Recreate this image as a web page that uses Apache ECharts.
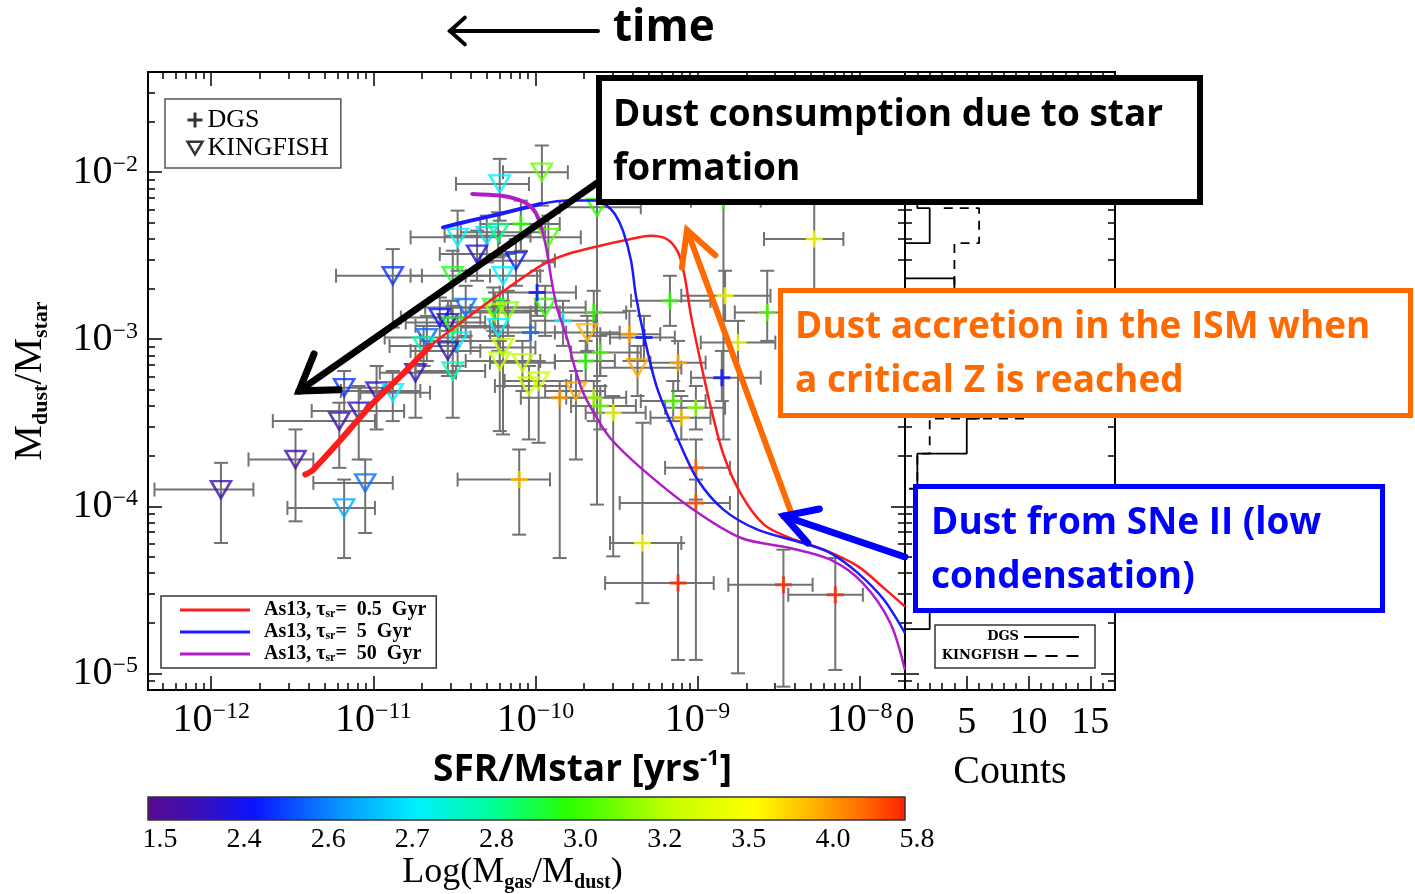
<!DOCTYPE html>
<html>
<head>
<meta charset="utf-8">
<script src="https://cdn.jsdelivr.net/npm/echarts@6/dist/echarts.min.js"></script>
<style>
  html, body { margin: 0; padding: 0; background: #fff; }
  #chart { width: 1415px; height: 894px; }
</style>
</head>
<body>
<div id="chart"></div>
<script>
// Axes are in log10 units: x = log10(SFR/Mstar [yr^-1]), y = log10(Mdust/Mstar)
const ssfrRange = [-12.39, -7.72];
const dustRange = [-5.10, -1.40];
const ssfrDecades = [-12, -11, -10, -9, -8];
const dustDecades = [-5, -4, -3, -2];

// KINGFISH galaxies: [log sSFR, log Md/M*, sSFR low, sSFR high, Md/M* low, Md/M* high, log Mgas/Mdust]
const kingfish = [
  [-11.94, -3.90, -12.35, -11.74, -4.22, -3.74, 1.9],
  [-11.48, -3.72, -11.77, -11.37, -4.09, -3.54, 1.9],
  [-11.18, -4.01, -11.53, -10.99, -4.31, -3.84, 2.65],
  [-11.05, -3.86, -11.37, -10.88, -4.16, -3.72, 2.6],
  [-11.21, -3.49, -11.62, -10.99, -3.77, -3.38, 2.0],
  [-11.09, -3.43, -11.38, -10.81, -3.72, -3.28, 2.1],
  [-11.18, -3.29, -11.45, -10.90, -3.43, -3.19, 2.5],
  [-10.98, -3.31, -11.20, -10.71, -3.54, -3.16, 2.1],
  [-10.88, -3.32, -11.08, -10.65, -3.49, -3.19, 2.72],
  [-10.74, -3.20, -10.96, -10.49, -3.47, -3.04, 2.1],
  [-10.88, -2.62, -11.23, -10.70, -2.93, -2.46, 2.5],
  [-10.22, -2.07, -10.49, -10.04, -2.29, -1.92, 2.72],
  [-9.96, -2.00, -10.20, -9.80, -2.20, -1.84, 3.1],
  [-10.48, -2.39, -10.77, -10.22, -2.59, -2.23, 2.72],
  [-10.30, -2.38, -10.56, -10.03, -2.54, -2.26, 2.7],
  [-10.23, -2.36, -10.46, -9.94, -2.51, -2.24, 2.85],
  [-10.36, -2.49, -10.59, -10.12, -2.65, -2.35, 2.3],
  [-10.12, -2.53, -10.34, -9.88, -2.68, -2.40, 2.45],
  [-10.20, -2.62, -10.43, -9.97, -2.77, -2.50, 2.72],
  [-10.51, -2.62, -10.77, -10.28, -2.77, -2.47, 2.95],
  [-9.92, -2.39, -10.09, -9.72, -2.54, -2.26, 3.05],
  [-9.94, -2.81, -10.19, -9.69, -2.98, -2.68, 3.0],
  [-10.43, -2.81, -10.68, -10.19, -2.98, -2.68, 2.6],
  [-10.26, -2.81, -10.52, -10.00, -2.95, -2.69, 2.95],
  [-10.17, -2.83, -10.40, -9.94, -2.98, -2.71, 3.15],
  [-9.68, -2.96, -9.88, -9.48, -3.07, -2.86, 3.95],
  [-10.54, -2.90, -10.80, -10.31, -3.07, -2.77, 2.1],
  [-10.59, -2.87, -10.83, -10.34, -3.04, -2.75, 2.45],
  [-10.67, -2.99, -10.93, -10.40, -3.13, -2.86, 2.58],
  [-10.48, -3.01, -10.71, -10.22, -3.16, -2.87, 2.72],
  [-10.51, -2.92, -10.74, -10.28, -3.04, -2.80, 2.95],
  [-10.69, -3.04, -10.90, -10.49, -3.16, -2.92, 2.8],
  [-10.54, -3.07, -10.77, -10.34, -3.22, -2.95, 2.15],
  [-10.51, -3.19, -10.74, -10.31, -3.47, -3.04, 2.8],
  [-10.22, -3.13, -10.43, -9.97, -3.55, -3.01, 3.25],
  [-10.20, -3.05, -10.40, -10.00, -3.57, -2.92, 3.25],
  [-10.08, -3.14, -10.28, -9.88, -3.31, -3.01, 3.25],
  [-10.04, -3.28, -10.25, -9.81, -3.60, -3.16, 3.3],
  [-9.98, -3.25, -10.19, -9.78, -3.62, -3.13, 3.3],
  [-10.25, -2.84, -10.46, -10.03, -2.98, -2.72, 3.2],
  [-10.23, -2.93, -10.46, -10.00, -3.07, -2.80, 2.72],
  [-9.75, -3.31, -9.94, -9.57, -3.72, -3.19, 4.0],
  [-9.37, -3.17, -9.60, -9.10, -3.34, -3.04, 4.0],
  [-9.62, -2.21, -9.85, -9.35, -3.99, -2.08, 3.0]
];

// DGS galaxies, same columns
const dgs = [
  [-10.10, -3.84, -10.48, -9.91, -4.17, -3.66, 3.9],
  [-10.09, -2.31, -10.34, -9.85, -2.47, -2.17, 3.0],
  [-9.99, -2.72, -10.22, -9.75, -2.86, -2.59, 2.45],
  [-10.03, -2.96, -10.28, -9.81, -3.13, -2.83, 2.6],
  [-9.64, -2.84, -9.85, -9.44, -2.98, -2.71, 3.0],
  [-9.60, -3.08, -9.78, -9.35, -3.22, -2.98, 3.05],
  [-9.69, -3.13, -9.88, -9.51, -3.25, -3.01, 3.0],
  [-9.85, -3.35, -10.09, -9.60, -4.31, -3.25, 4.3],
  [-9.64, -3.35, -9.81, -9.44, -3.49, -3.25, 3.2],
  [-9.60, -3.40, -9.78, -9.38, -3.54, -3.28, 3.1],
  [-9.52, -3.44, -9.69, -9.32, -4.30, -3.34, 3.45],
  [-8.28, -2.40, -8.59, -8.10, -3.00, -2.15, 3.55],
  [-8.83, -2.74, -9.10, -8.55, -2.89, -2.59, 3.5],
  [-9.17, -2.77, -9.41, -8.92, -2.92, -2.62, 3.0],
  [-8.57, -2.84, -8.77, -8.36, -3.01, -2.59, 3.05],
  [-8.75, -3.02, -8.98, -8.52, -5.00, -2.89, 3.5],
  [-9.42, -2.97, -9.60, -9.23, -3.13, -2.83, 4.1],
  [-9.33, -2.99, -9.54, -9.14, -3.13, -2.86, 2.45],
  [-9.12, -3.14, -9.29, -8.95, -3.31, -3.01, 4.0],
  [-8.85, -3.23, -9.04, -8.61, -3.37, -3.07, 2.45],
  [-9.15, -3.37, -9.35, -8.95, -3.49, -3.25, 3.05],
  [-9.01, -3.41, -9.20, -8.83, -3.54, -3.28, 3.15],
  [-9.10, -3.47, -9.29, -8.92, -3.60, -3.34, 3.9],
  [-9.01, -3.77, -9.20, -8.80, -3.96, -3.60, 5.0],
  [-9.01, -3.98, -9.48, -8.80, -4.92, -3.84, 5.2],
  [-9.34, -4.22, -9.54, -9.10, -4.58, -3.50, 3.6],
  [-9.12, -4.46, -9.57, -8.90, -4.92, -4.22, 5.7],
  [-8.47, -4.47, -8.81, -8.29, -5.08, -4.26, 5.7],
  [-8.15, -4.53, -8.44, -7.98, -4.98, -4.31, 5.7],
  [-8.84, -2.17, -9.04, -8.61, -3.60, -1.87, 3.0],
  [-9.83, -2.89, -10.03, -9.63, -3.04, -2.77, 2.72]
];

// Asano et al. (2013) model tracks for three star-formation timescales
const modelTau = ['0.5', '5', '50'];
const track05 = [
  [-11.42, -3.81], [-11.37, -3.78], [-11.20, -3.60], [-11.00, -3.38], [-10.83, -3.22],
  [-10.65, -3.04], [-10.42, -2.87], [-10.15, -2.68], [-9.95, -2.55], [-9.80, -2.49],
  [-9.60, -2.44], [-9.41, -2.40], [-9.29, -2.38], [-9.19, -2.40], [-9.12, -2.48],
  [-9.08, -2.62], [-9.04, -2.86], [-8.98, -3.14], [-8.92, -3.40], [-8.84, -3.69],
  [-8.73, -3.93], [-8.59, -4.11], [-8.43, -4.19], [-8.22, -4.26], [-8.01, -4.36],
  [-7.85, -4.49], [-7.72, -4.60]
];
const track5 = [
  [-10.57, -2.33], [-10.40, -2.29], [-10.22, -2.25], [-9.97, -2.19], [-9.80, -2.17],
  [-9.63, -2.17], [-9.56, -2.20], [-9.51, -2.25], [-9.46, -2.35], [-9.41, -2.53],
  [-9.38, -2.74], [-9.33, -2.98], [-9.25, -3.29], [-9.12, -3.60], [-9.00, -3.84],
  [-8.84, -4.02], [-8.63, -4.14], [-8.35, -4.22], [-8.18, -4.28], [-8.01, -4.40],
  [-7.85, -4.56], [-7.72, -4.76]
];
const track50 = [
  [-10.39, -2.13], [-10.22, -2.14], [-10.12, -2.16], [-10.05, -2.19], [-10.00, -2.24],
  [-9.96, -2.34], [-9.93, -2.47], [-9.90, -2.65], [-9.87, -2.80], [-9.83, -2.92],
  [-9.80, -3.01], [-9.76, -3.16], [-9.71, -3.31], [-9.64, -3.44], [-9.54, -3.59],
  [-9.35, -3.77], [-9.04, -4.01], [-8.73, -4.19], [-8.43, -4.25], [-8.18, -4.32],
  [-7.98, -4.46], [-7.81, -4.70], [-7.72, -4.98]
];

// Colour bar tick labels: log(Mgas/Mdust)
const gasDustTicks = [1.5, 2.4, 2.6, 2.7, 2.8, 3.0, 3.2, 3.5, 4.0, 5.8];

// Histograms of log(Mdust/Mstar)
const histEdges = [-1.585, -1.795, -2.005, -2.215, -2.425, -2.635, -2.845, -3.055, -3.265,
                   -3.475, -3.685, -3.895, -4.105, -4.315, -4.525, -4.735, -4.945, -5.155];
const histDGS = [0, 0, 1, 2, 0, 4, 6, 7, 6, 5, 1, 2, 1, 1, 2, 0, 0];
const histKF  = [0, 1, 3, 6, 4, 4, 10, 14, 10, 2, 1, 0, 0, 0, 0, 0, 0];
const countTicks = [0, 5, 10, 15];

// ---------- colour map ----------
const cmapStops = [
  [0, '#5a0b90'], [0.6, '#3a10b6'], [1.27, '#0a14ff'], [2.3, '#0a96ff'], [3.2, '#00f0ff'],
  [4.1, '#00ff9a'], [5.0, '#2aff00'], [6.2, '#c4ff00'], [7.2, '#ffff00'], [7.9, '#ffb400'],
  [8.5, '#ff6a00'], [9.0, '#ff2000']
];
function hexRgb(h) { return [1, 3, 5].map(i => parseInt(h.slice(i, i + 2), 16)); }
function cmapAt(p) {
  p = Math.max(0, Math.min(9, p));
  for (let i = 0; i < cmapStops.length - 1; i++) {
    const [p0, c0] = cmapStops[i], [p1, c1] = cmapStops[i + 1];
    if (p <= p1) {
      const t = (p - p0) / (p1 - p0), a = hexRgb(c0), b = hexRgb(c1);
      return 'rgb(' + a.map((v, k) => Math.round(v + (b[k] - v) * t)).join(',') + ')';
    }
  }
  return cmapStops[cmapStops.length - 1][1];
}
function gasDustPos(g) {
  const t = gasDustTicks;
  if (g <= t[0]) return 0;
  for (let i = 0; i < t.length - 1; i++) {
    if (g <= t[i + 1]) return i + (g - t[i]) / (t[i + 1] - t[i]);
  }
  return t.length - 1;
}
const colourOf = g => cmapAt(gasDustPos(g));

// ---------- helpers ----------
function logMinors(lo, hi) {
  const out = [];
  for (let d = Math.floor(lo); d <= Math.ceil(hi); d++) {
    for (let k = 2; k <= 9; k++) {
      const v = d + Math.log10(k);
      if (v > lo && v < hi) out.push(v);
    }
  }
  return out;
}
function histOutline(edges, counts) {
  const pts = [[0, edges[0]]];
  counts.forEach((c, i) => { pts.push([c, edges[i]]); pts.push([c, edges[i + 1]]); });
  pts.push([0, edges[edges.length - 1]]);
  return pts;
}

const SERIF = 'Liberation Serif';
const SANS = 'Open Sans';
const powerLabel = v => '{b|10}{e|\u2212' + Math.abs(v) + '}';
const powerRich = {
  b: { fontFamily: SERIF, fontSize: 40, lineHeight: 40, color: '#000' },
  e: { fontFamily: SERIF, fontSize: 24, lineHeight: 24, color: '#000', verticalAlign: 'top' }
};

function logAxis(opts) {
  const majors = opts.majors, minor = opts.minor;
  return {
    type: 'value', gridIndex: opts.grid, position: opts.position,
    min: opts.range[0], max: opts.range[1],
    axisLine: { show: true, onZero: false, lineStyle: { color: '#000', width: 2 } },
    splitLine: { show: false },
    axisTick: {
      show: true, inside: true, length: minor ? 7 : 14,
      lineStyle: { color: '#000', width: 1.5 },
      customValues: minor ? logMinors(opts.range[0], opts.range[1]) : majors
    },
    axisLabel: opts.labels ? Object.assign({
      show: true, customValues: majors, formatter: powerLabel, rich: powerRich
    }, opts.labels) : { show: false },
    name: opts.name || '', nameLocation: 'middle', nameGap: opts.nameGap || 0,
    nameRotate: opts.nameRotate, nameTextStyle: opts.nameTextStyle
  };
}

const xAxes = [
  logAxis({ grid: 0, position: 'bottom', range: ssfrRange, majors: ssfrDecades,
    labels: { margin: 10 },
    name: '{a|SFR/Mstar [yrs}{s|-1}{a|]}', nameGap: 58,
    nameTextStyle: { padding: [0, 0, 0, 112], rich: {
      a: { fontFamily: SANS, fontWeight: 'bold', fontSize: 37, lineHeight: 44, color: '#000' },
      s: { fontFamily: SANS, fontWeight: 'bold', fontSize: 22, lineHeight: 22, color: '#000', verticalAlign: 'top' }
    } } }),
  logAxis({ grid: 0, position: 'bottom', range: ssfrRange, minor: true }),
  logAxis({ grid: 0, position: 'top', range: ssfrRange, majors: ssfrDecades }),
  logAxis({ grid: 0, position: 'top', range: ssfrRange, minor: true }),
  {
    type: 'value', gridIndex: 1, position: 'bottom', min: 0, max: 17, interval: 5,
    axisLine: { show: true, onZero: false, lineStyle: { color: '#000', width: 2 } },
    splitLine: { show: false },
    axisTick: { show: true, inside: true, length: 14, lineStyle: { color: '#000', width: 1.5 } },
    minorTick: { show: true, splitNumber: 5, length: 7, lineStyle: { color: '#000', width: 1.5 } },
    axisLabel: { show: true, margin: 14, fontFamily: SERIF, fontSize: 38, color: '#000',
      formatter: v => countTicks.includes(v) ? String(v) : '' },
    name: 'Counts', nameLocation: 'middle', nameGap: 62,
    nameTextStyle: { fontFamily: SERIF, fontSize: 40, color: '#000' }
  },
  {
    type: 'value', gridIndex: 1, position: 'top', min: 0, max: 17, interval: 5,
    axisLine: { show: true, onZero: false, lineStyle: { color: '#000', width: 2 } },
    splitLine: { show: false },
    axisTick: { show: true, inside: true, length: 14, lineStyle: { color: '#000', width: 1.5 } },
    minorTick: { show: true, splitNumber: 5, length: 7, lineStyle: { color: '#000', width: 1.5 } },
    axisLabel: { show: false }
  },
  {
    type: 'value', gridIndex: 2, position: 'bottom', min: 0, max: gasDustTicks.length - 1,
    axisLine: { show: false }, axisTick: { show: false }, splitLine: { show: false },
    axisLabel: {
      show: true, customValues: gasDustTicks.map((_, i) => i), margin: 6,
      fontFamily: SERIF, fontSize: 28, color: '#000', padding: [0, 0, 0, 24],
      formatter: v => gasDustTicks[Math.round(v)].toFixed(1)
    },
    name: '{m|Log(M}{s|gas}{m|/M}{s|dust}{m|)}', nameLocation: 'middle', nameGap: 32,
    nameTextStyle: { padding: [0, 0, 0, -28], rich: {
      m: { fontFamily: SERIF, fontSize: 36, lineHeight: 40, color: '#000' },
      s: { fontFamily: SERIF, fontWeight: 'bold', fontSize: 20, lineHeight: 20, color: '#000', verticalAlign: 'bottom' }
    } }
  }
];

const yAxes = [
  logAxis({ grid: 0, position: 'left', range: dustRange, majors: dustDecades,
    labels: { margin: 10 },
    name: '{m|M}{s|dust}{m|/M}{s|star}', nameGap: 96, nameRotate: 90,
    nameTextStyle: { rich: {
      m: { fontFamily: SERIF, fontSize: 40, lineHeight: 44, color: '#000' },
      s: { fontFamily: SERIF, fontWeight: 'bold', fontSize: 22, lineHeight: 22, color: '#000', verticalAlign: 'bottom' }
    } } }),
  logAxis({ grid: 0, position: 'left', range: dustRange, minor: true }),
  logAxis({ grid: 0, position: 'right', range: dustRange, majors: dustDecades }),
  logAxis({ grid: 0, position: 'right', range: dustRange, minor: true }),
  logAxis({ grid: 1, position: 'left', range: dustRange, majors: dustDecades }),
  logAxis({ grid: 1, position: 'left', range: dustRange, minor: true }),
  logAxis({ grid: 1, position: 'right', range: dustRange, majors: dustDecades }),
  logAxis({ grid: 1, position: 'right', range: dustRange, minor: true }),
  { type: 'value', gridIndex: 2, min: 0, max: 1, show: false }
];

// ---------- series ----------
function errorBarSeries(name, rows) {
  return {
    name: name, type: 'custom', xAxisIndex: 0, yAxisIndex: 0, clip: true, z: 2,
    data: rows.map(r => r.slice(0, 6)),
    renderItem: (params, api) => {
      const x = api.value(0), y = api.value(1);
      const a = api.coord([api.value(2), y]), b = api.coord([api.value(3), y]);
      const lo = api.coord([x, api.value(4)]), hi = api.coord([x, api.value(5)]);
      const cap = 7;
      const st = { stroke: '#727272', lineWidth: 2 };
      const seg = (x1, y1, x2, y2) => ({ type: 'line', shape: { x1, y1, x2, y2 }, style: st });
      return { type: 'group', children: [
        seg(a[0], a[1], b[0], b[1]),
        seg(a[0], a[1] - cap, a[0], a[1] + cap),
        seg(b[0], b[1] - cap, b[0], b[1] + cap),
        seg(lo[0], lo[1], hi[0], hi[1]),
        seg(lo[0] - cap, lo[1], lo[0] + cap, lo[1]),
        seg(hi[0] - cap, hi[1], hi[0] + cap, hi[1])
      ] };
    }
  };
}

const TRI = 'path://M0,0L20,0L10,17Z';
const PLUS = 'path://M10,0V20M0,10H20';
const DASHES = 'path://M0,0H12V2H0Z M21,0H33V2H21Z M42,0H54V2H42Z';

function pointSeries(name, rows, symbol, size, width) {
  return {
    name: name, type: 'scatter', xAxisIndex: 0, yAxisIndex: 0, z: 4,
    symbol: symbol, symbolSize: size,
    itemStyle: { color: 'rgba(0,0,0,0)', borderWidth: width },
    emphasis: { disabled: true },
    data: rows.map(r => ({ value: [r[0], r[1]], itemStyle: { borderColor: colourOf(r[6]) } }))
  };
}

const trackNames = modelTau.map(t => 'As13 ' + t);
const trackColours = ['#ff1c1c', '#1a1aff', '#b01cc8'];
const trackData = [track05, track5, track50];
const trackSplit = [6, 4, 6]; // early part of each track is drawn heavier
const trackSeries = [];
trackData.forEach((d, i) => {
  trackSeries.push({
    name: trackNames[i], type: 'line', xAxisIndex: 0, yAxisIndex: 0, z: 6,
    data: d.slice(trackSplit[i] - 1), showSymbol: false, symbol: 'none', smooth: 0.3,
    lineStyle: { color: trackColours[i], width: 2.5 }, itemStyle: { color: trackColours[i] }
  });
  trackSeries.push({
    name: trackNames[i], type: 'line', xAxisIndex: 0, yAxisIndex: 0, z: 6,
    data: d.slice(0, trackSplit[i]), showSymbol: false, symbol: 'none', smooth: 0.3,
    lineStyle: { color: trackColours[i], width: i === 0 ? 6 : 4, cap: 'round' },
    itemStyle: { color: trackColours[i] }
  });
});

const histSeries = [
  { name: 'DGS counts', type: 'line', xAxisIndex: 4, yAxisIndex: 4, z: 3,
    data: histOutline(histEdges, histDGS), showSymbol: false, symbol: 'none',
    lineStyle: { color: '#000', width: 1.8 }, itemStyle: { color: '#000' } },
  { name: 'KINGFISH counts', type: 'line', xAxisIndex: 4, yAxisIndex: 4, z: 3,
    data: histOutline(histEdges, histKF), showSymbol: false, symbol: 'none',
    lineStyle: { color: '#000', width: 1.8, type: [9, 7] }, itemStyle: { color: '#000' } }
];

const colourBar = {
  name: 'colour bar', type: 'custom', xAxisIndex: 6, yAxisIndex: 8, data: [[0]],
  renderItem: (params, api) => {
    const p0 = api.coord([0, 0]), p1 = api.coord([gasDustTicks.length - 1, 1]);
    const n = gasDustTicks.length - 1;
    return {
      type: 'rect',
      shape: { x: p0[0], y: p1[1], width: p1[0] - p0[0], height: p0[1] - p1[1] },
      style: {
        fill: new echarts.graphic.LinearGradient(0, 0, 1, 0,
          cmapStops.map(s => ({ offset: s[0] / n, color: s[1] }))),
        stroke: '#333', lineWidth: 1.5
      }
    };
  }
};

// ---------- annotations ----------
function chevron(tip, from, len, angDeg) {
  const dx = from[0] - tip[0], dy = from[1] - tip[1];
  const L = Math.hypot(dx, dy), ux = dx / L, uy = dy / L;
  const a = angDeg * Math.PI / 180;
  const rot = s => [tip[0] + len * (ux * Math.cos(s * a) - uy * Math.sin(s * a)),
                    tip[1] + len * (ux * Math.sin(s * a) + uy * Math.cos(s * a))];
  return [rot(1), tip, rot(-1)];
}
function arrow(from, tip, colour, width, len, ang) {
  return [
    { type: 'line', z: 100, shape: { x1: from[0], y1: from[1], x2: tip[0], y2: tip[1] },
      style: { stroke: colour, lineWidth: width, lineCap: 'round' } },
    { type: 'polyline', z: 100, shape: { points: chevron(tip, from, len, ang) },
      style: { stroke: colour, lineWidth: width, lineCap: 'round', lineJoin: 'miter', fill: null } }
  ];
}
function noteBox(x, y, w, h, colour, width, lines, tx, ty, textColour) {
  return [
    { type: 'rect', z: 100, shape: { x: x, y: y, width: w, height: h },
      style: { fill: '#fff', stroke: colour, lineWidth: width } },
    { type: 'text', z: 101, x: tx, y: ty,
      style: { text: lines.join('\n'), fill: textColour, font: 'bold 37px "' + SANS + '"',
               lineHeight: 54, textVerticalAlign: 'top' } }
  ];
}

const ORANGE = '#ff6a00';
const BLUE = '#0000ff';
const graphics = [].concat(
  arrow([598, 31], [450, 31], '#000', 4, 20, 42),
  [{ type: 'text', z: 100, x: 613, y: 28,
     style: { text: 'time', fill: '#000', font: 'bold 44px "' + SANS + '"', textVerticalAlign: 'middle' } }],
  arrow([597, 183], [299, 391], '#000', 7, 40, 33),
  noteBox(599, 78, 601, 124, '#000', 6,
    ['Dust consumption due to star', 'formation'], 613, 88, '#000'),
  arrow([792, 515], [687, 230], ORANGE, 6, 38, 28),
  noteBox(780.5, 290.5, 630, 125, ORANGE, 5,
    ['Dust accretion in the ISM when', 'a critical Z is reached'], 795, 300, ORANGE),
  arrow([905, 557], [784, 516], BLUE, 7, 36, 30),
  noteBox(915.5, 486.5, 467, 124, BLUE, 5,
    ['Dust from SNe II (low', 'condensation)'], 931, 496, BLUE)
);

const option = {
  animation: false,
  backgroundColor: '#fff',
  grid: [
    { left: 148, top: 72, width: 757, height: 618, containLabel: false },
    { left: 905, top: 72, width: 210, height: 618, containLabel: false },
    { left: 148, top: 797, width: 757, height: 25, containLabel: false }
  ],
  xAxis: xAxes,
  yAxis: yAxes,
  legend: [
    {
      left: 165, top: 99, orient: 'vertical', itemGap: 2, padding: [8, 12, 7, 21],
      borderColor: '#555', borderWidth: 1.5, itemWidth: 15, itemHeight: 15,
      selectedMode: false,
      textStyle: { fontFamily: SERIF, fontSize: 26, lineHeight: 25, color: '#000' },
      data: [
        { name: 'DGS', icon: PLUS, itemStyle: { color: 'rgba(0,0,0,0)', borderColor: '#000', borderWidth: 3 } },
        { name: 'KINGFISH', icon: TRI, itemStyle: { color: 'rgba(0,0,0,0)', borderColor: '#000', borderWidth: 2.5 } }
      ]
    },
    {
      left: 161, top: 596, orient: 'vertical', itemGap: 2, padding: [4, 10, 4, 19],
      borderColor: '#333', borderWidth: 1.5, itemWidth: 70, itemHeight: 3,
      selectedMode: false, icon: 'rect',
      data: trackNames,
      formatter: name => {
        const t = modelTau[trackNames.indexOf(name)];
        return '{a|As13, }{a|\u03c4}{s|sr}{a|=  ' + t + '  Gyr}';
      },
      textStyle: { padding: [0, 0, 0, 9], rich: {
        a: { fontFamily: SERIF, fontWeight: 'bold', fontSize: 20, lineHeight: 19.5, color: '#000' },
        s: { fontFamily: SERIF, fontWeight: 'bold', fontSize: 12, lineHeight: 12, color: '#000', verticalAlign: 'bottom' }
      } }
    },
    {
      left: 935, top: 625, orient: 'vertical', align: 'right', itemGap: 3, padding: [4, 16, 4, 4],
      borderColor: '#333', borderWidth: 1.5, itemWidth: 55, itemHeight: 2,
      selectedMode: false,
      data: [{ name: 'DGS counts', icon: 'rect' }, { name: 'KINGFISH counts', icon: DASHES }],
      formatter: name => name.replace(' counts', ''),
      textStyle: { fontFamily: 'DejaVu Serif', fontWeight: 'bold', fontSize: 13, lineHeight: 16,
                   color: '#000', width: 80, align: 'right' }
    }
  ],
  series: [
    errorBarSeries('KINGFISH errors', kingfish),
    errorBarSeries('DGS errors', dgs),
    pointSeries('KINGFISH', kingfish, TRI, [20, 17], 2.5),
    pointSeries('DGS', dgs, PLUS, 17, 3)
  ].concat(trackSeries, histSeries, [colourBar]),
  graphic: { elements: graphics }
};

const chart = echarts.init(document.getElementById('chart'), null, { renderer: 'canvas' });
chart.setOption(option);
</script>
</body>
</html>
